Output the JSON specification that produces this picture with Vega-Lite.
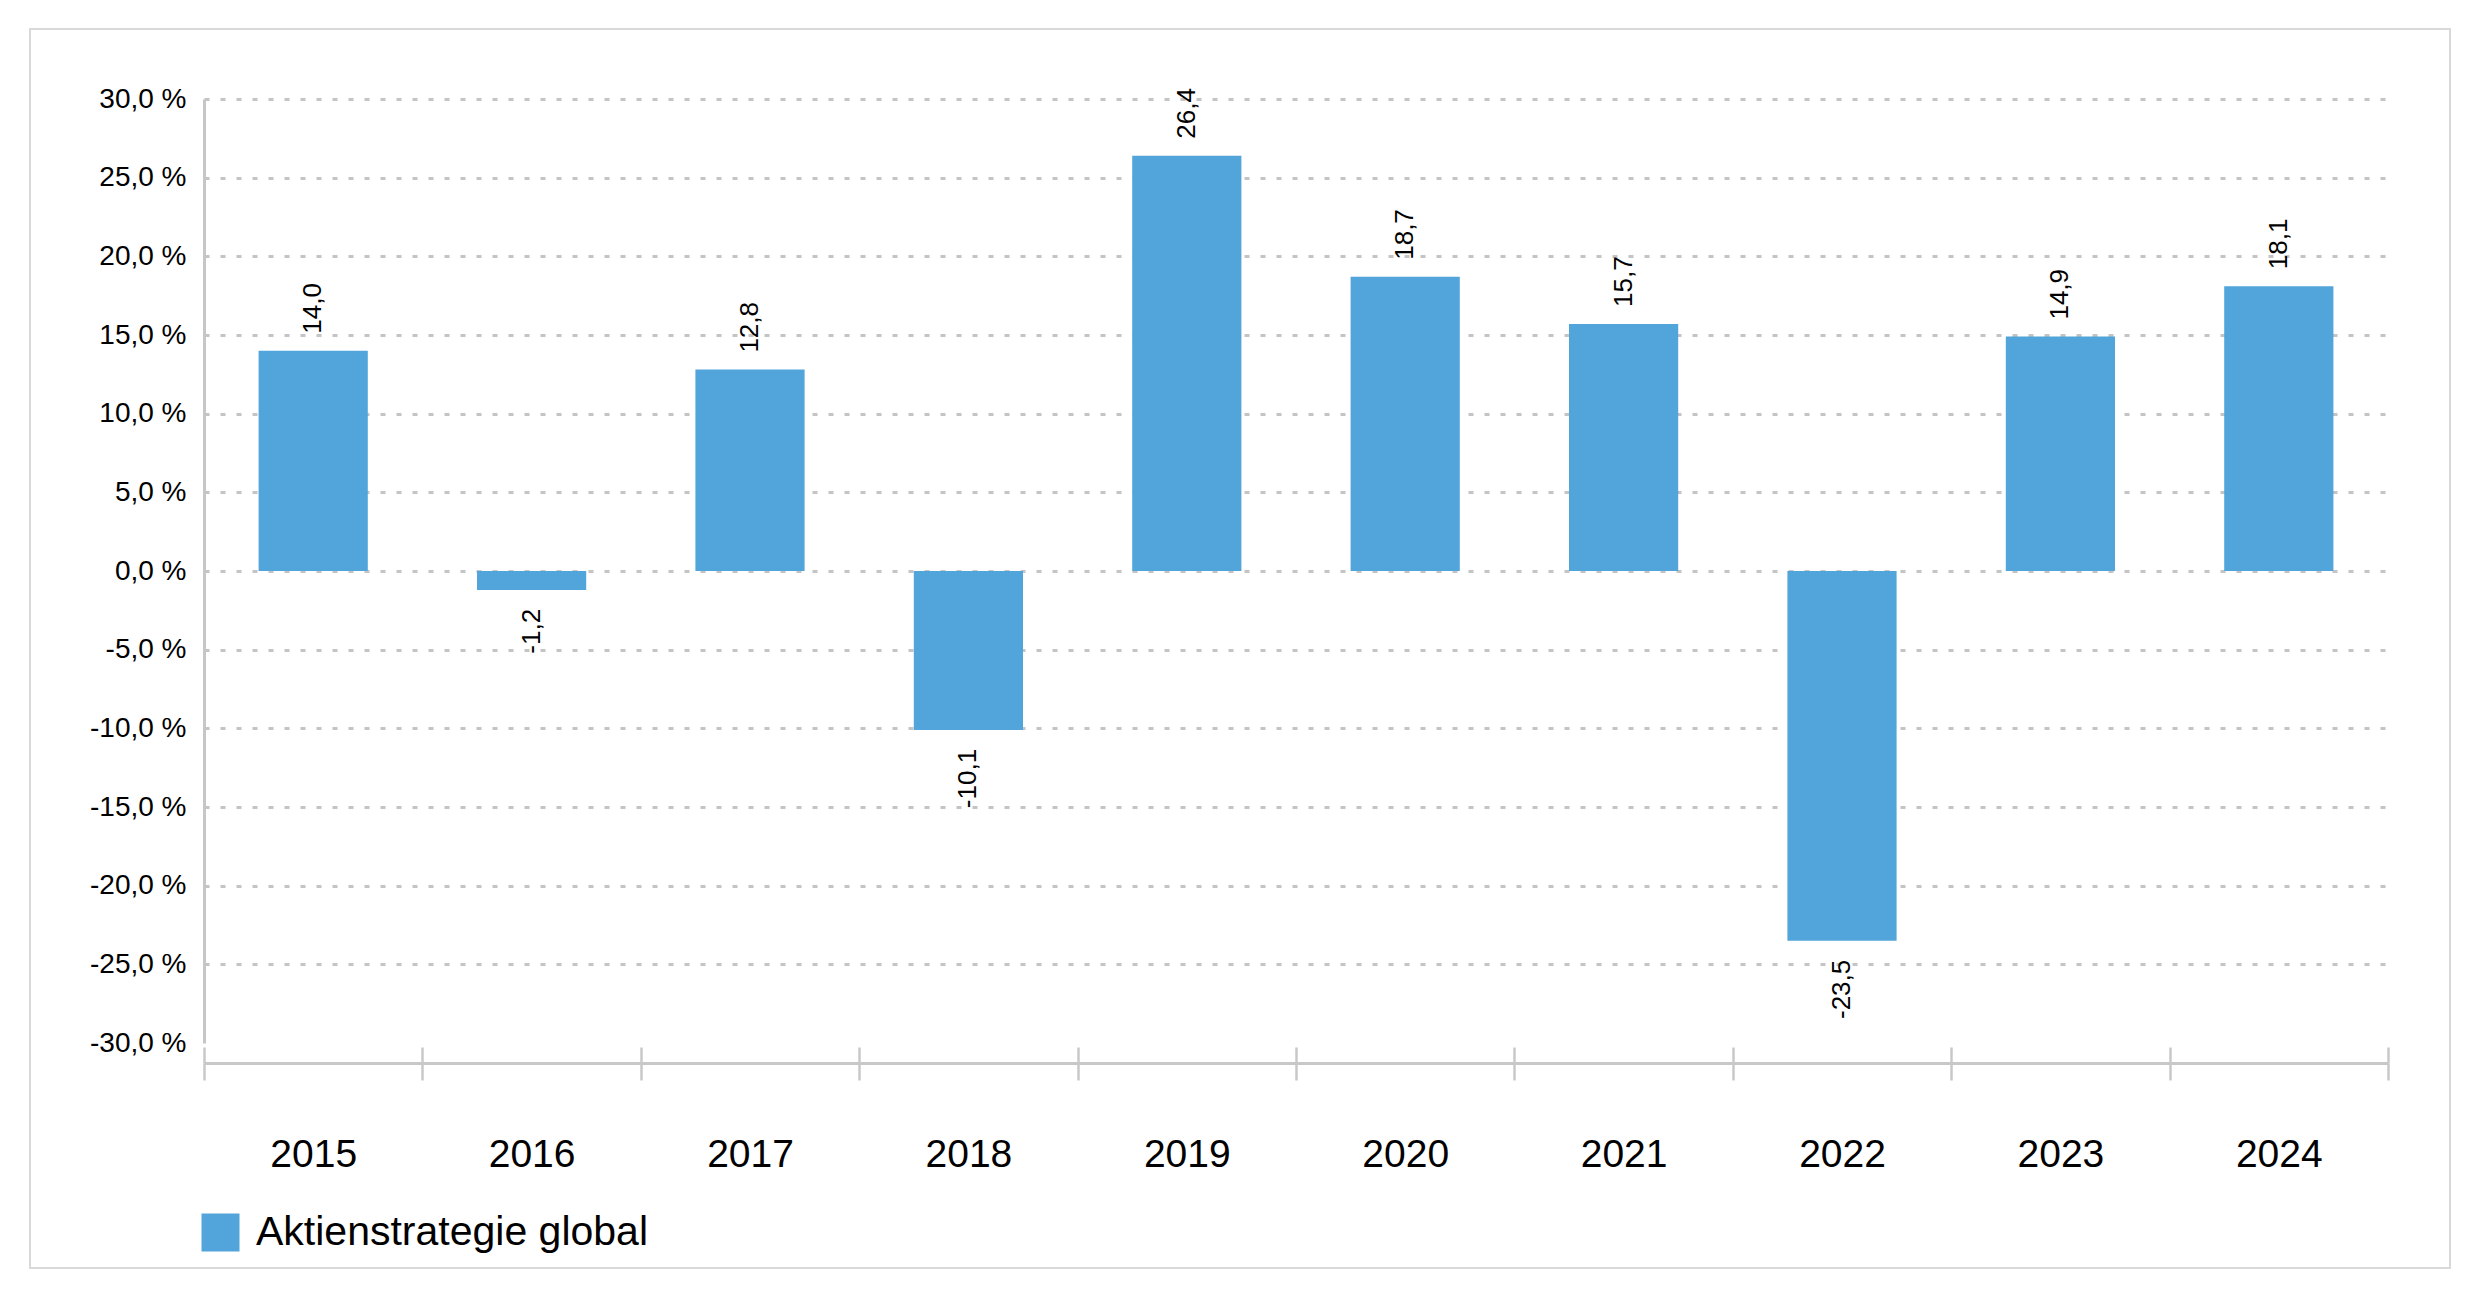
{
  "$schema": "https://vega.github.io/schema/vega-lite/v6.json",
  "width": 2420,
  "height": 1239,
  "autosize": {"type": "none"},
  "padding": {"left": 30, "top": 29, "right": 30, "bottom": 31},
  "background": "white",
  "config": {
    "locale": {"number": {"decimal": ",", "thousands": ".", "grouping": [3], "currency": ["", " €"], "minus": "-"}},
    "view": {"stroke": "#d9d9d9", "strokeWidth": 2},
    "font": "Liberation Sans"
  },
  "data": {
    "values": [
      {"year": "2015", "value": 14.0, "series": "Aktienstrategie global"},
      {"year": "2016", "value": -1.2, "series": "Aktienstrategie global"},
      {"year": "2017", "value": 12.8, "series": "Aktienstrategie global"},
      {"year": "2018", "value": -10.1, "series": "Aktienstrategie global"},
      {"year": "2019", "value": 26.4, "series": "Aktienstrategie global"},
      {"year": "2020", "value": 18.7, "series": "Aktienstrategie global"},
      {"year": "2021", "value": 15.7, "series": "Aktienstrategie global"},
      {"year": "2022", "value": -23.5, "series": "Aktienstrategie global"},
      {"year": "2023", "value": 14.9, "series": "Aktienstrategie global"},
      {"year": "2024", "value": 18.1, "series": "Aktienstrategie global"}
    ]
  },
  "layer": [
    {
      "mark": {"type": "bar", "width": {"band": 0.5}},
      "encoding": {
        "x": {
          "field": "year", "type": "ordinal",
          "scale": {"range": [174, 2358], "paddingInner": 0, "paddingOuter": 0},
          "axis": {
            "orient": "bottom", "offset": -205, "tickBand": "extent",
            "tickSize": 17, "tickWidth": 2.5, "tickColor": "#c8c8c8",
            "domainColor": "#c8c8c8", "domainWidth": 3,
            "labelAngle": 0, "labelFontSize": 39, "labelPadding": 55, "labelColor": "#000000",
            "grid": false, "title": null
          }
        },
        "y": {
          "field": "value", "type": "quantitative",
          "scale": {"domain": [-30, 30], "range": [1014, 70], "nice": false, "zero": false},
          "axis": {
            "values": [-30, -25, -20, -15, -10, -5, 0, 5, 10, 15, 20, 25, 30],
            "format": ".1f",
            "labelExpr": "datum.label + ' %'",
            "offset": -174,
            "ticks": false,
            "labelPadding": 18,
            "labelFontSize": 28,
            "labelColor": "#000000",
            "domainColor": "#c6c6c6",
            "domainWidth": 3,
            "grid": true,
            "gridColor": "#c4c4c4",
            "gridDash": [5, 11],
            "gridWidth": 3,
            "gridOpacity": {"condition": {"test": "datum.value === -30", "value": 0}, "value": 1},
            "title": null
          }
        },
        "color": {
          "field": "series", "type": "nominal",
          "scale": {"range": ["#52a5da"]},
          "legend": {
            "orient": "none", "legendX": 170, "legendY": 1183,
            "title": null, "padding": 0,
            "symbolType": "square", "symbolSize": 1444, "symbolStrokeWidth": 0,
            "labelFontSize": 41, "labelColor": "#000000", "labelOffset": 15, "labelLimit": 0,
            "encode": {"symbols": {"update": {"fill": {"value": "#64b0e4"}, "opacity": {"value": 1}}}}
          }
        }
      }
    },
    {
      "transform": [{"filter": "datum.value >= 0"}],
      "mark": {"type": "text", "angle": 270, "align": "left", "baseline": "middle", "dx": 17, "fontSize": 26, "color": "#000000"},
      "encoding": {
        "x": {
          "field": "year", "type": "ordinal",
          "axis": {
            "orient": "bottom", "offset": -205, "tickBand": "extent",
            "tickSize": -16, "tickWidth": 2.5, "tickColor": "#c8c8c8",
            "domain": false, "labels": false, "grid": false, "title": null
          }
        },
        "y": {"field": "value", "type": "quantitative"},
        "text": {"field": "value", "type": "quantitative", "format": ".1f"}
      }
    },
    {
      "transform": [{"filter": "datum.value < 0"}],
      "mark": {"type": "text", "angle": 270, "align": "right", "baseline": "middle", "dx": -19, "fontSize": 26, "color": "#000000"},
      "encoding": {
        "x": {"field": "year", "type": "ordinal", "axis": null},
        "y": {"field": "value", "type": "quantitative"},
        "text": {"field": "value", "type": "quantitative", "format": ".1f"}
      }
    }
  ],
  "resolve": {"axis": {"x": "independent"}}
}
